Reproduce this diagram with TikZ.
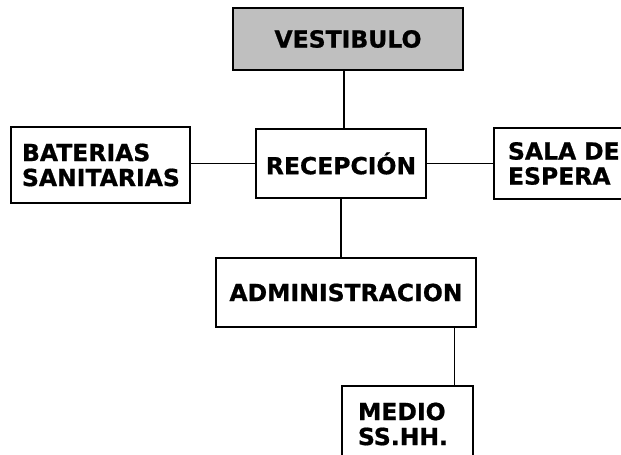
\documentclass[tikz,border=0pt]{standalone}
\usepackage{fontspec}
\setmainfont{DejaVu Sans}[BoldFeatures={FakeBold=0.8}]
\usetikzlibrary{shadows}
\begin{document}
\begin{tikzpicture}[x=1pt,y=-1pt,
  caja/.style={draw, line width=1.3pt, fill=white, inner sep=0pt,
    font=\bfseries\fontsize{23.5}{25}\selectfont,
    drop shadow={shadow xshift=1.2pt, shadow yshift=-1.2pt, fill=gray, opacity=0.6}},
  linea/.style={line width=1.5pt}]
\useasboundingbox[fill=white] (0,0) rectangle (621,455);
\node[caja, fill=gray!50, minimum width=230, minimum height=62] (vest) at (348,39) {VESTIBULO};
\node[caja, minimum width=170, minimum height=69] (recep) at (341,163.5) {RECEPCIÓN};
\node[caja, minimum width=179, minimum height=76, text width=157, align=left] (bat) at (100.5,165) {BATERIAS\\SANITARIAS};
\node[caja, minimum width=156, minimum height=71, text width=128, align=left] (sala) at (572,163.5) {SALA DE\\ESPERA};
\node[caja, minimum width=260, minimum height=69] (admin) at (346,292.5) {ADMINISTRACION};
\node[caja, minimum width=131, minimum height=76, text width=99, align=left] (medio) at (407.5,424) {MEDIO\\SS.HH.};
% conectores
\draw[linea] (recep.north) ++(3,0) -- (vest.south -| 344,0);
\draw[linea] (recep.west) -- (recep.west -| bat.east);
\draw[linea] (recep.east) -- (recep.east -| sala.west);
\draw[linea] (recep.south) -- (recep.south |- admin.north);
\draw[linea] ([xshift=-22pt]admin.south east) -- ([xshift=-22pt]admin.south east |- medio.north);
\end{tikzpicture}
\end{document}
